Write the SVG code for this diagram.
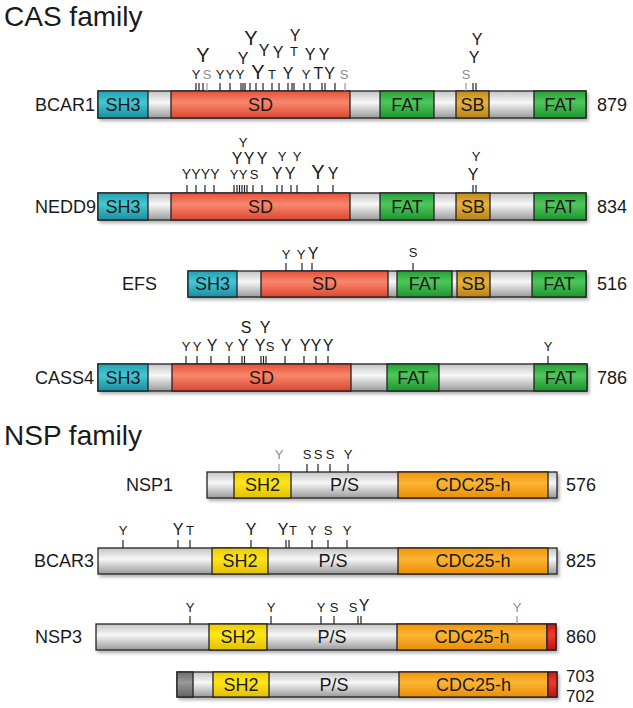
<svg xmlns="http://www.w3.org/2000/svg" width="633" height="708" viewBox="0 0 633 708">
<defs>
<linearGradient id="gGray" x1="0" y1="0" x2="0" y2="1"><stop offset="0" stop-color="#c4c4c4"/><stop offset="0.42" stop-color="#f7f7f7"/><stop offset="1" stop-color="#9a9a9a"/></linearGradient>
<linearGradient id="gDark" x1="0" y1="0" x2="0" y2="1"><stop offset="0" stop-color="#6e6e6e"/><stop offset="0.42" stop-color="#999"/><stop offset="1" stop-color="#626262"/></linearGradient>
<linearGradient id="gSH3" x1="0" y1="0" x2="0" y2="1"><stop offset="0" stop-color="#22a2b4"/><stop offset="0.42" stop-color="#45c7d4"/><stop offset="1" stop-color="#1a8e9f"/></linearGradient>
<linearGradient id="gSD" x1="0" y1="0" x2="0" y2="1"><stop offset="0" stop-color="#e5513a"/><stop offset="0.42" stop-color="#f8876c"/><stop offset="1" stop-color="#dc4630"/></linearGradient>
<linearGradient id="gFAT" x1="0" y1="0" x2="0" y2="1"><stop offset="0" stop-color="#25a036"/><stop offset="0.42" stop-color="#4fc75b"/><stop offset="1" stop-color="#1e942f"/></linearGradient>
<linearGradient id="gSB" x1="0" y1="0" x2="0" y2="1"><stop offset="0" stop-color="#c38a18"/><stop offset="0.42" stop-color="#e6b23e"/><stop offset="1" stop-color="#b98214"/></linearGradient>
<linearGradient id="gSH2" x1="0" y1="0" x2="0" y2="1"><stop offset="0" stop-color="#eccb00"/><stop offset="0.42" stop-color="#ffe51c"/><stop offset="1" stop-color="#e0bf00"/></linearGradient>
<linearGradient id="gCDC" x1="0" y1="0" x2="0" y2="1"><stop offset="0" stop-color="#f09408"/><stop offset="0.42" stop-color="#fbb534"/><stop offset="1" stop-color="#ea8c04"/></linearGradient>
<linearGradient id="gRed" x1="0" y1="0" x2="0" y2="1"><stop offset="0" stop-color="#cc1616"/><stop offset="0.42" stop-color="#ee3b2b"/><stop offset="1" stop-color="#c01010"/></linearGradient>
<filter id="sh" x="-5%" y="-30%" width="110%" height="160%"><feDropShadow dx="2" dy="2.5" stdDeviation="1.5" flood-color="#000" flood-opacity="0.3"/></filter>
<style>
text{font-family:"Liberation Sans",Arial,Helvetica,sans-serif;fill:#1a1a1a}
.ttl{font-size:28px}
.nm{font-size:18px}
.ln{font-size:18px}
.ln2{font-size:17px}
.dl{font-size:18px;text-anchor:middle}
.s{font-size:13px;text-anchor:middle}
.q{font-size:14px;text-anchor:middle}
.m{font-size:16px;text-anchor:middle}
.b{font-size:20px;text-anchor:middle}
text.g{fill:#8c8c8c}
.bar{fill:url(#gGray);stroke:#222;stroke-width:1.3;filter:url(#sh)}
.d{stroke:#222;stroke-width:1.3}
.tk{stroke:#222;stroke-width:1.2}
.tk.g{stroke:#999}
</style>
</defs>

<text class="ttl" x="4" y="26">CAS family</text>
<text class="ttl" x="4" y="445">NSP family</text>

<g id="bcar1">
<rect class="bar" x="98" y="91" width="488" height="27"/>
<rect class="d" x="98" y="91" width="50" height="27" fill="url(#gSH3)"/>
<rect class="d" x="171" y="91" width="179" height="27" fill="url(#gSD)"/>
<rect class="d" x="380" y="91" width="54" height="27" fill="url(#gFAT)"/>
<rect class="d" x="456" y="91" width="33" height="27" fill="url(#gSB)"/>
<rect class="d" x="534" y="91" width="52" height="27" fill="url(#gFAT)"/>
<text class="dl" x="123" y="111">SH3</text>
<text class="dl" x="260.5" y="111">SD</text>
<text class="dl" x="407" y="111">FAT</text>
<text class="dl" x="472.5" y="111">SB</text>
<text class="dl" x="560" y="111">FAT</text>
<text class="nm" x="35" y="111">BCAR1</text>
<text class="ln" x="597" y="111">879</text>
<g class="ticks">
<line class="tk" x1="196" y1="83" x2="196" y2="91"/><line class="tk" x1="199" y1="83" x2="199" y2="91"/><line class="tk" x1="203" y1="83" x2="203" y2="91"/><line class="tk g" x1="207" y1="83" x2="207" y2="91"/>
<line class="tk" x1="220" y1="83" x2="220" y2="91"/><line class="tk" x1="230" y1="83" x2="230" y2="91"/><line class="tk" x1="241" y1="83" x2="241" y2="91"/><line class="tk" x1="243" y1="83" x2="243" y2="91"/>
<line class="tk" x1="245" y1="83" x2="245" y2="91"/><line class="tk" x1="250" y1="83" x2="250" y2="91"/><line class="tk" x1="256" y1="83" x2="256" y2="91"/><line class="tk" x1="263" y1="83" x2="263" y2="91"/>
<line class="tk" x1="272" y1="83" x2="272" y2="91"/><line class="tk" x1="279" y1="83" x2="279" y2="91"/><line class="tk" x1="288" y1="83" x2="288" y2="91"/><line class="tk" x1="292" y1="83" x2="292" y2="91"/>
<line class="tk" x1="294" y1="83" x2="294" y2="91"/><line class="tk" x1="304" y1="83" x2="304" y2="91"/><line class="tk" x1="310" y1="83" x2="310" y2="91"/><line class="tk" x1="322" y1="83" x2="322" y2="91"/>
<line class="tk" x1="325" y1="83" x2="325" y2="91"/><line class="tk" x1="335" y1="83" x2="335" y2="91"/><line class="tk g" x1="345" y1="83" x2="345" y2="91"/>
<line class="tk g" x1="466" y1="83" x2="466" y2="91"/><line class="tk" x1="473" y1="83" x2="473" y2="91"/><line class="tk" x1="476" y1="83" x2="476" y2="91"/>
</g>
<text class="s" x="196" y="79">Y</text><text class="s g" x="207" y="79">S</text><text class="s" x="220" y="79">Y</text><text class="s" x="230" y="79">Y</text><text class="s" x="240" y="79">Y</text>
<text class="b" x="258" y="79">Y</text><text class="s" x="272" y="79">T</text><text class="m" x="288" y="79">Y</text><text class="s" x="306" y="79">Y</text>
<text class="m" x="318.5" y="79">T</text><text class="m" x="329.5" y="79">Y</text><text class="s g" x="344" y="79">S</text>
<text class="b" x="203" y="62">Y</text><text class="m" x="243" y="64">Y</text><text class="m" x="264" y="56">Y</text><text class="m" x="278" y="58">Y</text>
<text class="s" x="294" y="56">T</text><text class="m" x="310" y="60">Y</text><text class="m" x="324" y="60">Y</text>
<text class="b" x="251" y="45">Y</text><text class="m" x="295" y="41">Y</text>
<text class="s g" x="466" y="79">S</text><text class="m" x="474" y="63">Y</text><text class="m" x="477" y="45">Y</text>
</g>

<g id="nedd9">
<rect class="bar" x="98" y="193" width="488" height="27"/>
<rect class="d" x="98" y="193" width="50" height="27" fill="url(#gSH3)"/>
<rect class="d" x="171" y="193" width="179" height="27" fill="url(#gSD)"/>
<rect class="d" x="380" y="193" width="54" height="27" fill="url(#gFAT)"/>
<rect class="d" x="456" y="193" width="34" height="27" fill="url(#gSB)"/>
<rect class="d" x="534" y="193" width="52" height="27" fill="url(#gFAT)"/>
<text class="dl" x="123" y="213">SH3</text>
<text class="dl" x="260.5" y="213">SD</text>
<text class="dl" x="407" y="213">FAT</text>
<text class="dl" x="473" y="213">SB</text>
<text class="dl" x="560" y="213">FAT</text>
<text class="nm" x="35" y="213">NEDD9</text>
<text class="ln" x="597" y="213">834</text>
<g class="ticks">
<line class="tk" x1="187" y1="185" x2="187" y2="193"/><line class="tk" x1="196" y1="185" x2="196" y2="193"/><line class="tk" x1="205" y1="185" x2="205" y2="193"/><line class="tk" x1="214" y1="185" x2="214" y2="193"/>
<line class="tk" x1="234" y1="185" x2="234" y2="193"/><line class="tk" x1="237" y1="185" x2="237" y2="193"/><line class="tk" x1="239.5" y1="185" x2="239.5" y2="193"/><line class="tk" x1="242" y1="185" x2="242" y2="193"/>
<line class="tk" x1="244.5" y1="185" x2="244.5" y2="193"/><line class="tk" x1="247" y1="185" x2="247" y2="193"/><line class="tk" x1="253" y1="185" x2="253" y2="193"/><line class="tk" x1="262" y1="185" x2="262" y2="193"/>
<line class="tk" x1="277" y1="185" x2="277" y2="193"/><line class="tk" x1="282" y1="185" x2="282" y2="193"/><line class="tk" x1="291" y1="185" x2="291" y2="193"/><line class="tk" x1="297" y1="185" x2="297" y2="193"/>
<line class="tk" x1="318" y1="185" x2="318" y2="193"/><line class="tk" x1="333" y1="185" x2="333" y2="193"/>
<line class="tk" x1="473" y1="185" x2="473" y2="193"/><line class="tk" x1="476" y1="185" x2="476" y2="193"/>
</g>
<text class="q" x="186.5" y="179">Y</text><text class="q" x="196" y="179">Y</text><text class="q" x="205.5" y="179">Y</text><text class="q" x="215" y="179">Y</text>
<text class="s" x="234" y="179">Y</text><text class="s" x="243" y="179">Y</text><text class="s" x="254" y="179">S</text>
<text class="m" x="277" y="179">Y</text><text class="m" x="290" y="179">Y</text><text class="b" x="318" y="179">Y</text><text class="m" x="333" y="179">Y</text>
<text class="m" x="237" y="164">Y</text><text class="m" x="249" y="164">Y</text><text class="m" x="262" y="164">Y</text>
<text class="s" x="282" y="161">Y</text><text class="s" x="297" y="161">Y</text>
<text class="s" x="243" y="147">Y</text>
<text class="m" x="473" y="180">Y</text><text class="s" x="476" y="161">Y</text>
</g>

<g id="efs">
<rect class="bar" x="188" y="271" width="398" height="26"/>
<rect class="d" x="188" y="271" width="49" height="26" fill="url(#gSH3)"/>
<rect class="d" x="261" y="271" width="127" height="26" fill="url(#gSD)"/>
<rect class="d" x="397" y="271" width="55" height="26" fill="url(#gFAT)"/>
<rect class="d" x="457" y="271" width="33" height="26" fill="url(#gSB)"/>
<rect class="d" x="532" y="271" width="54" height="26" fill="url(#gFAT)"/>
<text class="dl" x="212.5" y="290">SH3</text>
<text class="dl" x="324.5" y="290">SD</text>
<text class="dl" x="424.5" y="290">FAT</text>
<text class="dl" x="473.5" y="290">SB</text>
<text class="dl" x="559" y="290">FAT</text>
<text class="nm" x="122" y="290">EFS</text>
<text class="ln" x="597" y="290">516</text>
<g class="ticks">
<line class="tk" x1="286" y1="263" x2="286" y2="271"/><line class="tk" x1="302" y1="263" x2="302" y2="271"/><line class="tk" x1="312" y1="263" x2="312" y2="271"/><line class="tk" x1="413" y1="263" x2="413" y2="271"/>
</g>
<text class="s" x="286" y="259">Y</text><text class="s" x="301" y="259">Y</text><text class="m" x="313" y="259">Y</text><text class="s" x="413" y="257">S</text>
</g>

<g id="cass4">
<rect class="bar" x="98" y="364" width="489" height="27"/>
<rect class="d" x="98" y="364" width="50" height="27" fill="url(#gSH3)"/>
<rect class="d" x="172" y="364" width="179" height="27" fill="url(#gSD)"/>
<rect class="d" x="387" y="364" width="52" height="27" fill="url(#gFAT)"/>
<rect class="d" x="534" y="364" width="53" height="27" fill="url(#gFAT)"/>
<text class="dl" x="123" y="384">SH3</text>
<text class="dl" x="261.5" y="384">SD</text>
<text class="dl" x="413" y="384">FAT</text>
<text class="dl" x="560.5" y="384">FAT</text>
<text class="nm" x="35" y="384">CASS4</text>
<text class="ln" x="597" y="384">786</text>
<g class="ticks">
<line class="tk" x1="186" y1="356" x2="186" y2="364"/><line class="tk" x1="197" y1="356" x2="197" y2="364"/><line class="tk" x1="211" y1="356" x2="211" y2="364"/><line class="tk" x1="229" y1="356" x2="229" y2="364"/>
<line class="tk" x1="242" y1="356" x2="242" y2="364"/><line class="tk" x1="244.5" y1="356" x2="244.5" y2="364"/><line class="tk" x1="261" y1="356" x2="261" y2="364"/><line class="tk" x1="263.5" y1="356" x2="263.5" y2="364"/>
<line class="tk" x1="266" y1="356" x2="266" y2="364"/><line class="tk" x1="285" y1="356" x2="285" y2="364"/><line class="tk" x1="304" y1="356" x2="304" y2="364"/><line class="tk" x1="316" y1="356" x2="316" y2="364"/>
<line class="tk" x1="328" y1="356" x2="328" y2="364"/><line class="tk" x1="548" y1="356" x2="548" y2="364"/>
</g>
<text class="s" x="186" y="351">Y</text><text class="s" x="197" y="351">Y</text><text class="m" x="212" y="351">Y</text><text class="s" x="229" y="351">Y</text>
<text class="m" x="243" y="351">Y</text><text class="m" x="260" y="351">Y</text><text class="s" x="270" y="351">S</text><text class="m" x="286" y="351">Y</text>
<text class="m" x="305" y="351">Y</text><text class="m" x="316" y="351">Y</text><text class="m" x="328" y="351">Y</text>
<text class="m" x="246" y="333">S</text><text class="m" x="265" y="333">Y</text>
<text class="s" x="548" y="351">Y</text>
</g>

<g id="nsp1">
<rect class="bar" x="207" y="472" width="350" height="26"/>
<rect class="d" x="234" y="472" width="57" height="26" fill="url(#gSH2)"/>
<rect class="d" x="398" y="472" width="150" height="26" fill="url(#gCDC)"/>
<text class="dl" x="262.5" y="491">SH2</text>
<text class="dl" x="344.5" y="491">P/S</text>
<text class="dl" x="473" y="491">CDC25-h</text>
<text class="nm" x="126" y="491">NSP1</text>
<text class="ln" x="566" y="491">576</text>
<g class="ticks">
<line class="tk g" x1="279" y1="464" x2="279" y2="472"/><line class="tk" x1="307" y1="464" x2="307" y2="472"/><line class="tk" x1="318" y1="464" x2="318" y2="472"/><line class="tk" x1="330" y1="464" x2="330" y2="472"/><line class="tk" x1="348" y1="464" x2="348" y2="472"/>
</g>
<text class="s g" x="279" y="459">Y</text><text class="s" x="307" y="459">S</text><text class="s" x="318" y="459">S</text><text class="s" x="330" y="459">S</text><text class="s" x="348" y="459">Y</text>
</g>

<g id="bcar3">
<rect class="bar" x="98" y="548" width="459" height="26"/>
<rect class="d" x="212" y="548" width="56" height="26" fill="url(#gSH2)"/>
<rect class="d" x="398" y="548" width="150" height="26" fill="url(#gCDC)"/>
<text class="dl" x="240" y="567">SH2</text>
<text class="dl" x="333" y="567">P/S</text>
<text class="dl" x="473" y="567">CDC25-h</text>
<text class="nm" x="34" y="567">BCAR3</text>
<text class="ln" x="566" y="567">825</text>
<g class="ticks">
<line class="tk" x1="123" y1="540" x2="123" y2="548"/><line class="tk" x1="178" y1="540" x2="178" y2="548"/><line class="tk" x1="190" y1="540" x2="190" y2="548"/><line class="tk" x1="251" y1="540" x2="251" y2="548"/>
<line class="tk" x1="286" y1="540" x2="286" y2="548"/><line class="tk" x1="289" y1="540" x2="289" y2="548"/><line class="tk" x1="312" y1="540" x2="312" y2="548"/><line class="tk" x1="328" y1="540" x2="328" y2="548"/><line class="tk" x1="347" y1="540" x2="347" y2="548"/>
</g>
<text class="s" x="123" y="535">Y</text><text class="m" x="178" y="535">Y</text><text class="s" x="190" y="535">T</text><text class="m" x="251" y="535">Y</text>
<text class="m" x="283" y="535">Y</text><text class="s" x="293" y="535">T</text><text class="s" x="312" y="535">Y</text><text class="s" x="328" y="535">S</text><text class="s" x="347" y="535">Y</text>
</g>

<g id="nsp3">
<rect class="bar" x="96" y="624" width="460" height="26"/>
<rect class="d" x="209" y="624" width="58" height="26" fill="url(#gSH2)"/>
<rect class="d" x="397" y="624" width="150" height="26" fill="url(#gCDC)"/>
<rect class="d" x="547" y="624" width="9" height="26" fill="url(#gRed)"/>
<text class="dl" x="238" y="643">SH2</text>
<text class="dl" x="332" y="643">P/S</text>
<text class="dl" x="472" y="643">CDC25-h</text>
<text class="nm" x="35" y="643">NSP3</text>
<text class="ln" x="566" y="643">860</text>
<g class="ticks">
<line class="tk" x1="190" y1="616" x2="190" y2="624"/><line class="tk" x1="271" y1="616" x2="271" y2="624"/><line class="tk" x1="321" y1="616" x2="321" y2="624"/><line class="tk" x1="334" y1="616" x2="334" y2="624"/>
<line class="tk" x1="358" y1="616" x2="358" y2="624"/><line class="tk" x1="361" y1="616" x2="361" y2="624"/><line class="tk g" x1="517" y1="616" x2="517" y2="624"/>
</g>
<text class="s" x="190" y="612">Y</text><text class="s" x="271" y="612">Y</text><text class="s" x="321" y="612">Y</text><text class="s" x="334" y="612">S</text>
<text class="s" x="353" y="612">S</text><text class="m" x="364" y="611">Y</text><text class="s g" x="517" y="612">Y</text>
</g>

<g id="nsp3-isoform">
<rect class="bar" x="177" y="672" width="380" height="25"/>
<rect class="d" x="177" y="672" width="16" height="25" fill="url(#gDark)"/>
<rect class="d" x="213" y="672" width="56" height="25" fill="url(#gSH2)"/>
<rect class="d" x="399" y="672" width="149" height="25" fill="url(#gCDC)"/>
<rect class="d" x="548" y="672" width="9" height="25" fill="url(#gRed)"/>
<text class="dl" x="241" y="691">SH2</text>
<text class="dl" x="334" y="691">P/S</text>
<text class="dl" x="473.5" y="691">CDC25-h</text>
<text class="ln2" x="566" y="682">703</text>
<text class="ln2" x="566" y="701.5">702</text>
</g>
</svg>
